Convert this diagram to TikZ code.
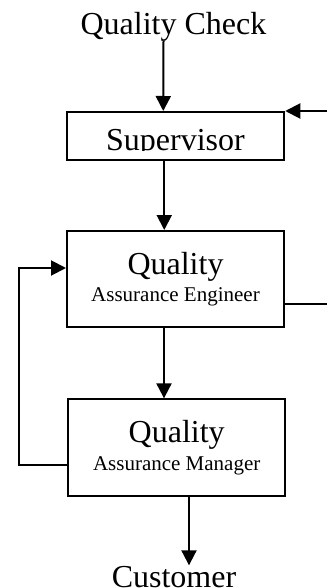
\documentclass[tikz,border=0pt]{standalone}
\usepackage{fontspec}
\setmainfont{Liberation Serif}
\usetikzlibrary{arrows.meta}
\newcommand{\labelsize}{\fontsize{32}{32}\selectfont}
\newcommand{\rolesize}{\fontsize{21}{27.5}\selectfont}

\begin{document}
\begin{tikzpicture}[x=1pt, y=-1pt, line width=2pt,
  box/.style={draw, minimum width=217pt, inner sep=0pt, align=center, font=\rolesize},
  caption/.style={inner sep=0pt, anchor=base, font=\labelsize},
  flow/.style={-{Triangle[length=15pt, width=15pt]}}]
\useasboundingbox (0,0) rectangle (327,588);
\coordinate (in) at (327,112);
\coordinate (out) at (327,304);
\node[caption] (check) at (173.5,35) {Quality Check};
\node[box, minimum height=48pt] (sup) at (175.75,136) {};
\begin{scope}
\clip (sup.north west) rectangle (284,150.5);
\node[caption] (suptext) at (175.5,150.5) {Supervisor};
\end{scope}
\node[box, minimum height=96pt] (qae) at (175.5,279) {{\labelsize Quality}\\Assurance Engineer};
\node[box, minimum width=216.7pt, minimum height=96.7pt] (qam) at (176.7,447.7) {{\labelsize Quality}\\Assurance Manager};
\node[caption] (cust) at (174,587.5) {Customer};
\draw[flow] ([xshift=-10pt,yshift=-6pt]check.base) -- ([xshift=-12.5pt]sup.north);
\draw[flow] (in |- sup.north east) -- (sup.north east);
\draw[flow] ([xshift=-11.5pt]sup.south) -- ([xshift=-11.5pt]sup.south |- qae.north);
\draw[flow] ([xshift=-11.5pt]qae.south) -- ([xshift=-11.5pt]qae.south |- qam.north);
\draw[flow] ([xshift=12.3pt]qam.south) -- ([xshift=12.3pt]qam.south |- cust.north);
\draw[flow] ([yshift=-17pt]qam.west) -- ++(-48.5,0) |- ([yshift=11pt]qae.west);
\draw (qae.east |- out) -- (out);
\end{tikzpicture}
\end{document}
